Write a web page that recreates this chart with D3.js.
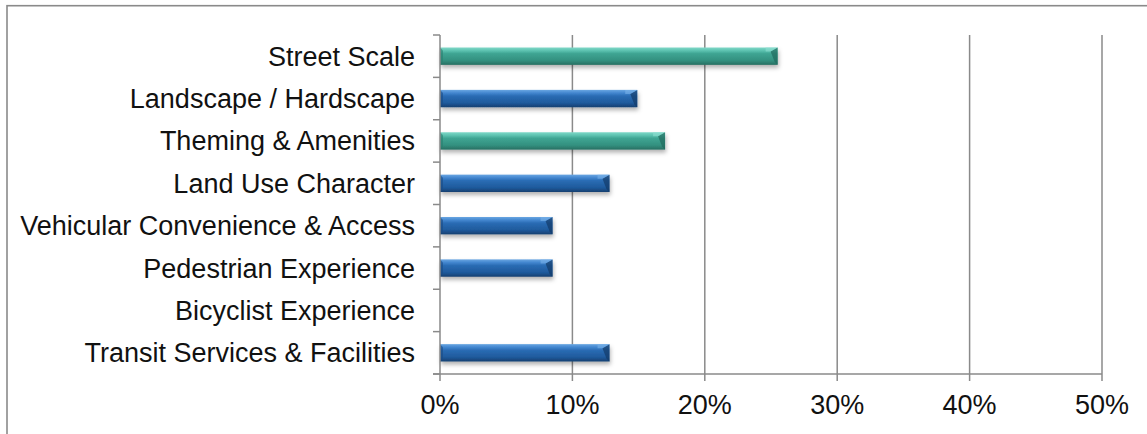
<!DOCTYPE html>
<html>
<head>
<meta charset="utf-8">
<script src="https://cdn.jsdelivr.net/npm/d3@7/dist/d3.min.js"></script>
<style>
  html, body { margin: 0; padding: 0; background: #fff; }
  svg { display: block; font-family: "Liberation Sans", Arial, Helvetica, sans-serif; }
</style>
</head>
<body>
<svg id="chart" width="1147" height="434"></svg>
<script>
// Share of responses by design theme
const categories = [
  "Street Scale",
  "Landscape / Hardscape",
  "Theming & Amenities",
  "Land Use Character",
  "Vehicular Convenience & Access",
  "Pedestrian Experience",
  "Bicyclist Experience",
  "Transit Services & Facilities"
];
const values = [0.255, 0.149, 0.170, 0.128, 0.085, 0.085, 0.0, 0.128];
// highlighted themes are drawn in teal, the rest in blue
const highlight = [true, false, true, false, false, false, false, false];
const xTicks = [0, 0.1, 0.2, 0.3, 0.4, 0.5];

const svg = d3.select("#chart");
const gridColor = "#8a8a8a";

// outer frame (right and bottom edges run past the canvas)
svg.append("rect")
  .attr("x", 7).attr("y", 5.7)
  .attr("width", 1200).attr("height", 500)
  .attr("fill", "none").attr("stroke", gridColor).attr("stroke-width", 1.6);

const x = d3.scaleLinear().domain([0, 0.5]).range([440, 1102]);
const y = d3.scaleBand().domain(categories).range([35, 374]).padding(0);
const barH = y.bandwidth() * 0.41;

const defs = svg.append("defs");
function grad(id, stops) {
  const g = defs.append("linearGradient").attr("id", id)
    .attr("x1", 0).attr("y1", 0).attr("x2", 0).attr("y2", 1);
  stops.forEach(([o, c]) => g.append("stop").attr("offset", o).attr("stop-color", c));
}
grad("gTeal", [[0, "#7fd8c8"], [0.18, "#5cc2b0"], [0.35, "#3fa593"], [0.75, "#33907f"], [1, "#276f62"]]);
grad("gBlue", [[0, "#6aa6e2"], [0.18, "#4386cf"], [0.35, "#2a6cb4"], [0.75, "#1f5a9c"], [1, "#163f70"]]);
const shadow = defs.append("filter").attr("id", "shadow")
  .attr("x", "-5%").attr("y", "-50%").attr("width", "115%").attr("height", "220%");
shadow.append("feDropShadow").attr("dx", 1).attr("dy", 3).attr("stdDeviation", 2)
  .attr("flood-color", "#000").attr("flood-opacity", 0.3);

// vertical gridlines
svg.append("g").selectAll("line")
  .data(xTicks.slice(1))
  .join("line")
  .attr("x1", d => x(d)).attr("x2", d => x(d))
  .attr("y1", 35).attr("y2", 374)
  .attr("stroke", gridColor).attr("stroke-width", 1.5);

// bars
const bars = svg.append("g").selectAll("g")
  .data(categories.map((c, i) => ({ c, v: values[i], hl: highlight[i] })).filter(d => d.v > 0))
  .join("g");

bars.append("rect")
  .attr("x", x(0))
  .attr("y", d => y(d.c) + (y.bandwidth() - barH) / 2)
  .attr("width", d => x(d.v) - x(0))
  .attr("height", barH)
  .attr("fill", d => d.hl ? "url(#gTeal)" : "url(#gBlue)")
  .attr("filter", "url(#shadow)");

// bevelled right end
bars.append("path")
  .attr("d", d => {
    const x1 = x(d.v), y0 = y(d.c) + (y.bandwidth() - barH) / 2, y1 = y0 + barH;
    return `M${x1 - 7},${y0 + 4} L${x1},${y0} L${x1},${y1} L${x1 - 3},${y1 - 3} Z`;
  })
  .attr("fill", d => d.hl ? "#1f6a5c" : "#123a68")
  .attr("opacity", 0.7);
bars.append("path")
  .attr("d", d => {
    const x1 = x(d.v), y0 = y(d.c) + (y.bandwidth() - barH) / 2;
    return `M${x1 - 12},${y0} L${x1},${y0} L${x1 - 7},${y0 + 4} L${x1 - 12},${y0 + 4} Z`;
  })
  .attr("fill", d => d.hl ? "#8fe0d2" : "#7ab2ea")
  .attr("opacity", 0.6);
// left bevel
bars.append("path")
  .attr("d", d => {
    const x0 = x(0), y0 = y(d.c) + (y.bandwidth() - barH) / 2, y1 = y0 + barH;
    return `M${x0},${y0} L${x0 + 3},${y0 + 3} L${x0 + 3},${y1 - 3} L${x0},${y1} Z`;
  })
  .attr("fill", d => d.hl ? "#2a7e70" : "#1a4b84")
  .attr("opacity", 0.6);

// y axis
const yAxisG = svg.append("g");
yAxisG.append("line")
  .attr("x1", 440).attr("x2", 440).attr("y1", 35).attr("y2", 374)
  .attr("stroke", gridColor).attr("stroke-width", 1.5);
const bounds = categories.map(c => y(c)).concat([y.range()[1]]);
yAxisG.selectAll("line.tick").data(bounds).join("line")
  .attr("class", "tick")
  .attr("x1", 433).attr("x2", 440)
  .attr("y1", d => d).attr("y2", d => d)
  .attr("stroke", gridColor).attr("stroke-width", 1.5);
yAxisG.selectAll("text").data(categories).join("text")
  .attr("x", 415)
  .attr("y", d => y(d) + y.bandwidth() / 2 + 9.5)
  .attr("text-anchor", "end")
  .attr("font-size", 27)
  .attr("fill", "#111")
  .text(d => d);

// x axis
const xAxisG = svg.append("g");
xAxisG.append("line")
  .attr("x1", 433).attr("x2", 1102).attr("y1", 374).attr("y2", 374)
  .attr("stroke", gridColor).attr("stroke-width", 1.5);
xAxisG.selectAll("line.tick").data(xTicks).join("line")
  .attr("class", "tick")
  .attr("x1", d => x(d)).attr("x2", d => x(d))
  .attr("y1", 374).attr("y2", 381)
  .attr("stroke", gridColor).attr("stroke-width", 1.5);
xAxisG.selectAll("text").data(xTicks).join("text")
  .attr("x", d => x(d))
  .attr("y", 414)
  .attr("text-anchor", "middle")
  .attr("font-size", 27)
  .attr("fill", "#111")
  .text(d => d3.format(".0%")(d));
</script>
</body>
</html>
